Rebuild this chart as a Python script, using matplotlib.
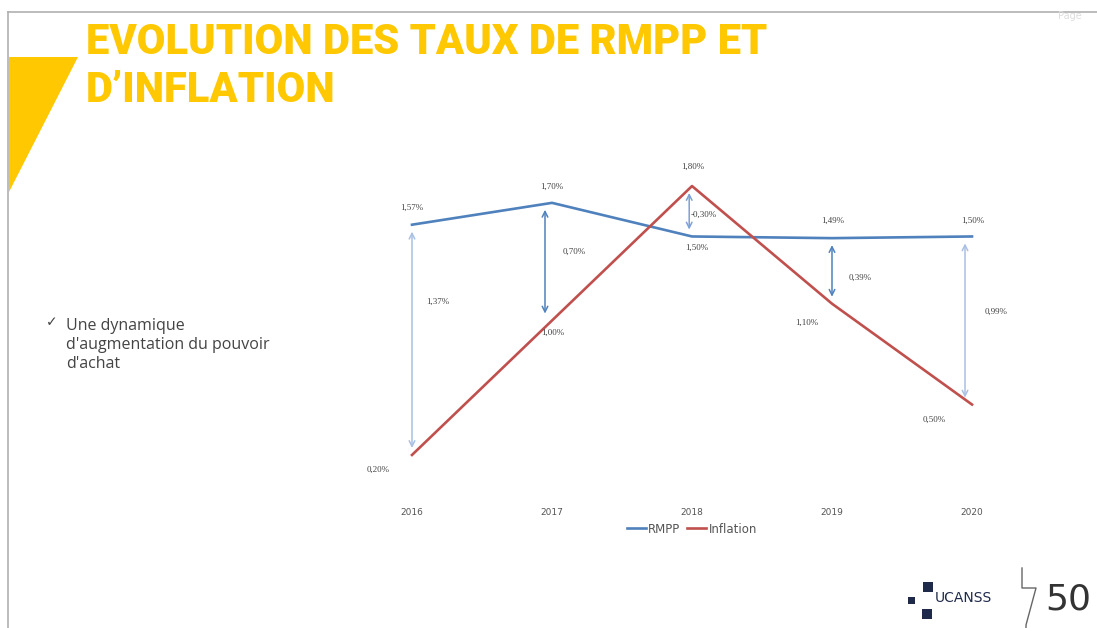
import matplotlib.pyplot as plt
from matplotlib.patches import Polygon, Rectangle
from matplotlib.lines import Line2D

years = ["2016", "2017", "2018", "2019", "2020"]
rmpp = [1.57, 1.70, 1.50, 1.49, 1.50]
inflation = [0.20, 1.00, 1.80, 1.10, 0.50]
rmpp_labels = ["1,57%", "1,70%", "1,50%", "1,49%", "1,50%"]
infl_labels = ["0,20%", "1,00%", "1,80%", "1,10%", "0,50%"]
gap_labels = ["1,37%", "0,70%", "-0,30%", "0,39%", "0,99%"]

W, H = 1097, 628
fig = plt.figure(figsize=(W / 100, H / 100), dpi=100)

def fx(px):
    return px / W

def fy(py):
    return 1 - py / H

# slide frame
fig.add_artist(Line2D([fx(8), 1], [fy(12), fy(12)], color="#b0b0b0", lw=1.2))
fig.add_artist(Line2D([fx(8), fx(8)], [fy(12), 0], color="#b0b0b0", lw=1.2))
fig.text(fx(1058), fy(16), "Page", fontsize=7, color="#dddddd", va="center")

# yellow accent
fig.add_artist(Polygon([(fx(9), fy(57)), (fx(78), fy(57)), (fx(9), fy(192))],
                       closed=True, color="#ffc800", lw=0))

fig.text(fx(86), fy(42), "EVOLUTION DES TAUX DE RMPP ET", fontsize=30,
         fontweight="black", color="#ffc800", va="center", family="Roboto")
fig.text(fx(86), fy(90), "D\u2019INFLATION", fontsize=30, fontweight="black",
         color="#ffc800", va="center", family="Roboto")

fig.text(fx(46), fy(322), "\u2713", fontsize=10, color="#444444", va="center",
         family="DejaVu Sans")
fig.text(fx(66), fy(345), "Une dynamique\nd'augmentation du pouvoir\nd'achat",
         fontsize=11.5, color="#444444", va="center", linespacing=1.25,
         family="Open Sans")

# chart
ax = fig.add_axes([fx(342), fy(480), fx(700), 320 / H])
x = range(len(years))
ax.plot(x, rmpp, color="#4f81bd", lw=1.9, label="RMPP")
ax.plot(x, inflation, color="#c0504d", lw=1.9, label="Inflation")
ax.set_xlim(-0.5, 4.5)
ax.set_ylim(0.051, 1.955)
ax.set_yticks([])
ax.set_xticks(list(x))
ax.set_xticklabels(years, fontsize=6.5, color="#555555")
ax.tick_params(axis="x", length=0, pad=20)
for s in ax.spines.values():
    s.set_visible(False)

arrow_cols = ["#a9c0e4", "#4f81bd", "#7ea0d6", "#4f81bd", "#a9c0e4"]
arrow_dx = [0, -0.05, -0.02, 0, -0.05]
lab_kw = dict(fontsize=6.5, color="#444444", family="Liberation Serif",
              textcoords="offset pixels", ha="center", va="center")
rmpp_off = [(0, 17), (0, 16), (5, -11), (1, 17), (1, 16)]
infl_off = [(-34, -15), (1, -12), (1, 19), (-25, -19), (-38, -15)]
gap_off = [(26, -77), (22, -49), (12, -29), (28, -40), (24, -75)]
for i in x:
    xa = i + arrow_dx[i]
    hi, lo = max(rmpp[i], inflation[i]), min(rmpp[i], inflation[i])
    ax.annotate("", xy=(xa, lo), xytext=(xa, hi),
                arrowprops=dict(arrowstyle="<->", color=arrow_cols[i], lw=1.1,
                                shrinkA=5, shrinkB=5))
    ax.annotate(rmpp_labels[i], (i, rmpp[i]), xytext=rmpp_off[i], **lab_kw)
    ax.annotate(infl_labels[i], (i, inflation[i]), xytext=infl_off[i], **lab_kw)
    ax.annotate(gap_labels[i], (i, hi), xytext=gap_off[i], **lab_kw)

ax.legend(loc="upper center", bbox_to_anchor=(0.5, -0.1), ncol=2, frameon=False,
          fontsize=8.5, handlelength=1.6, handletextpad=0.2, columnspacing=0.6,
          labelcolor="#555555")

# logo
for (x0, y0, s) in [(908, 597, 7), (923, 582, 10), (922, 609, 10)]:
    fig.add_artist(Rectangle((fx(x0), fy(y0 + s)), fx(s), s / H,
                             color="#1f2a4a", lw=0))
fig.text(fx(935), fy(598), "UCANSS", fontsize=10, color="#1f2a4a", va="center",
         family="Liberation Sans Narrow")
fig.add_artist(Line2D([fx(1022), fx(1022), fx(1036), fx(1026), fx(1026)],
                      [fy(568), fy(588), fy(588), fy(625), fy(628)],
                      color="#666666", lw=1))
fig.text(fx(1045), fy(600), "50", fontsize=26, color="#333333", va="center",
         family="Liberation Sans Narrow")

fig.savefig("out.png", dpi=100)
